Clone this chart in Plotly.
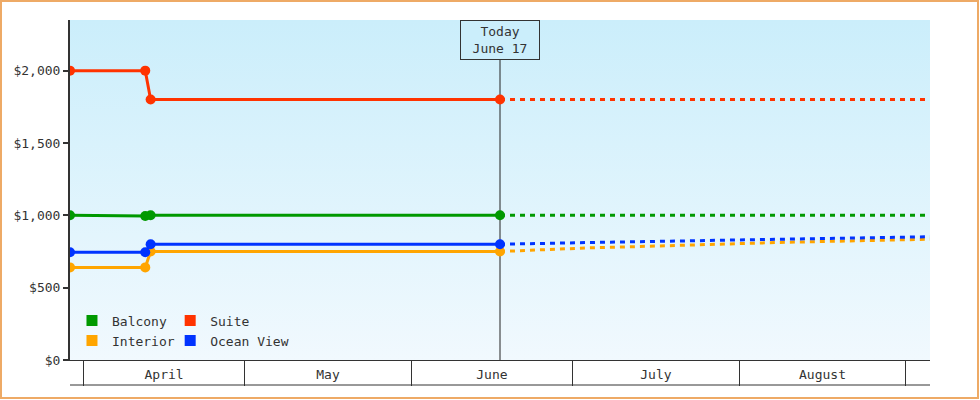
import base64
import plotly.graph_objects as go

# -------- Colours and fonts --------
fontColour = '#333333'
fontFamily = 'DejaVu Sans Mono'
borderColour = '#eeaa66'
seriesColours = {'Balcony': '#009900', 'Suite': '#ff3300', 'Interior': '#ffa500', 'Ocean View': '#0033ff'}

# -------- Data --------
# Recorded prices up to today (solid lines with markers)
histDates = ['2013-03-29 12:00', '2013-04-12 12:00', '2013-04-13 12:00', '2013-06-17 12:00']
balconyHist = [1000, 995, 1000, 1000]
suiteHist = [2000, 2000, 1800, 1800]
interiorHist = [640, 640, 750, 750]
oceanHist = [745, 745, 800, 800]

# Forecast prices after today (dotted lines)
forecastDates = ['2013-06-17 12:00', '2013-06-22', '2013-07-04', '2013-07-15', '2013-07-26',
                 '2013-08-08', '2013-08-19', '2013-08-30', '2013-09-05 12:00']
balconyForecast = [1000, 1000, 1000, 1000, 1000, 1000, 1000, 1000, 1000]
suiteForecast = [1800, 1800, 1800, 1800, 1800, 1800, 1800, 1800, 1800]
interiorForecast = [750, 757, 775, 786, 799, 812, 821, 830, 835]
oceanForecast = [800, 804, 812, 819, 826, 834, 842, 849, 852]

todayDate = '2013-06-17 12:00'
todayLabel = 'Today<br>June 17'
xRange = ['2013-03-29 12:00', '2013-09-05 12:00']
yRange = [0, 2350]
yTicks = [0, 500, 1000, 1500, 2000]
yTickText = ['$0', '$500', '$1,000', '$1,500', '$2,000']

series = [
    ('Balcony', balconyHist, balconyForecast),
    ('Suite', suiteHist, suiteForecast),
    ('Interior', interiorHist, interiorForecast),
    ('Ocean View', oceanHist, oceanForecast),
]

fig = go.Figure()

# Draw forecast first so the solid history sits on top
for name, hist, forecast in series:
    colour = seriesColours[name]
    fig.add_trace(go.Scatter(x=forecastDates, y=forecast, mode='lines', showlegend=False,
                             line=dict(color=colour, width=3, dash='5px,5px')))
    fig.add_trace(go.Scatter(x=histDates, y=hist, mode='lines+markers', showlegend=False,
                             line=dict(color=colour, width=3), marker=dict(color=colour, size=10)))

# Legend entries as squares, split in two columns (two legends)
legendColumns = {'Balcony': 'legend', 'Interior': 'legend', 'Suite': 'legend2', 'Ocean View': 'legend2'}
for name in ['Balcony', 'Interior', 'Suite', 'Ocean View']:
    fig.add_trace(go.Scatter(x=[None], y=[None], mode='markers', name=name, legend=legendColumns[name],
                             marker=dict(symbol='square', size=11, color=seriesColours[name])))

# Light blue gradient for the plot background
gradientSvg = ('<svg xmlns="http://www.w3.org/2000/svg" width="860" height="340" preserveAspectRatio="none">'
               '<defs><linearGradient id="g" x1="0" y1="0" x2="0" y2="1">'
               '<stop offset="0" stop-color="#cbeefb"/><stop offset="1" stop-color="#f1f9fe"/>'
               '</linearGradient></defs><rect width="100%" height="100%" fill="url(#g)"/></svg>')
gradientSrc = 'data:image/svg+xml;base64,' + base64.b64encode(gradientSvg.encode()).decode()

legendStyle = dict(orientation='v', yanchor='top', y=0.16, bgcolor='rgba(0,0,0,0)',
                   font=dict(family=fontFamily, size=13, color=fontColour), itemclick=False)

fig.update_layout(
    width=980, height=400,
    margin=dict(l=70, r=50, t=20, b=40),
    paper_bgcolor='white', plot_bgcolor='white',
    font=dict(family=fontFamily, size=13, color=fontColour),
    legend=dict(legendStyle, x=0.0023, xanchor='left'),
    legend2=dict(legendStyle, x=0.1165, xanchor='left'),
    images=[dict(source=gradientSrc, xref='paper', yref='paper', x=0, y=1, sizex=1, sizey=1,
                 xanchor='left', yanchor='top', sizing='stretch', layer='below')],
    xaxis=dict(type='date', range=xRange, tickmode='linear', tick0='2013-04-01', dtick='M1',
               ticklabelmode='period', tickformat='%B', ticks='outside', ticklen=25, tickwidth=1,
               tickcolor=fontColour, showline=True, linecolor=fontColour, linewidth=1,
               showgrid=False, zeroline=False, ticklabelstandoff=-23),
    yaxis=dict(range=yRange, tickmode='array', tickvals=yTicks, ticktext=yTickText, ticks='outside',
               ticklen=5, tickwidth=2, tickcolor=fontColour, showline=True, linecolor=fontColour,
               linewidth=2, showgrid=False, zeroline=False),
    shapes=[
        # today marker line
        dict(type='line', xref='x', yref='paper', x0=todayDate, x1=todayDate, y0=0, y1=1,
             line=dict(color='#222222', width=1), layer='below'),
        # bottom edge of the month band
        dict(type='line', xref='paper', yref='paper', x0=0, x1=1, ysizemode='pixel', yanchor=0,
             y0=-25, y1=-25, line=dict(color=fontColour, width=1)),
        # orange frame round the whole chart
        dict(type='rect', xref='paper', yref='paper', xsizemode='pixel', xanchor=0, x0=-69, x1=908,
             ysizemode='pixel', yanchor=0, y0=-38, y1=359, line=dict(color=borderColour, width=2)),
    ],
    annotations=[dict(x=todayDate, xref='x', y=1, yref='paper', yanchor='top', text=todayLabel,
                      showarrow=False, width=76, height=36, bgcolor='#cbeefb',
                      bordercolor=fontColour, borderwidth=1,
                      font=dict(family=fontFamily, size=13, color=fontColour))],
)

# the page body has a default margin, drop it so the chart sits at the window corner
fig.write_html('out.html', config={'displayModeBar': False},
               post_script="document.body.style.margin='0';")
